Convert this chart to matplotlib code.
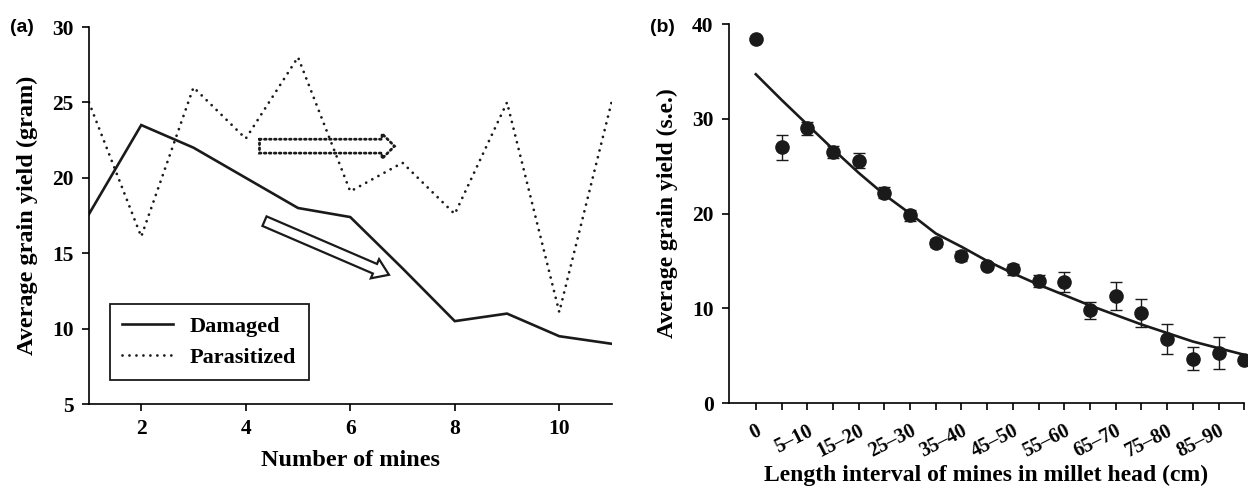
import matplotlib
matplotlib.use("Agg")
import matplotlib.pyplot as plt
from matplotlib.patches import FancyArrowPatch
import numpy as np

# ---------------- data ----------------
mines = [1, 2, 3, 4, 5, 6, 7, 8, 9, 10, 11]
damaged = [17.6, 23.5, 22.0, 20.0, 18.0, 17.4, 14.0, 10.5, 11.0, 9.5, 9.0]
parasitized = [25.0, 16.1, 26.0, 22.6, 28.0, 19.1, 21.0, 17.6, 25.0, 11.1, 25.0]

intervals = ["0", "0\u20135", "5\u201310", "10\u201315", "15\u201320", "20\u201325",
             "25\u201330", "30\u201335", "35\u201340", "40\u201345", "45\u201350",
             "50\u201355", "55\u201360", "60\u201365", "65\u201370", "70\u201375",
             "75\u201380", "80\u201385", "85\u201390", "90\u201395"]
yield_mean = [38.4, 27.0, 29.0, 26.5, 25.6, 22.2, 19.8, 16.9, 15.5, 14.5,
              14.1, 12.9, 12.8, 9.8, 11.3, 9.5, 6.8, 4.7, 5.3, 4.6]
yield_se = [0.0, 1.3, 0.7, 0.6, 0.8, 0.6, 0.6, 0.4, 0.5, 0.4,
            0.6, 0.6, 1.05, 0.9, 1.45, 1.5, 1.6, 1.2, 1.7, 0.0]
fit_curve = [34.7, 32.0, 29.4, 26.8, 24.3, 22.0, 20.0, 17.9, 16.5, 15.0,
             13.7, 12.5, 11.4, 10.3, 9.3, 8.3, 7.4, 6.5, 5.8, 5.1]

# annotation arrows (data coordinates)
arrow_damaged = ((4.31, 17.2), (6.79, 13.5))
arrow_parasit = ((4.21, 22.1), (6.90, 22.1))

plt.rcParams['font.family'] = ['Liberation Serif', 'DejaVu Serif']
plt.rcParams['font.weight'] = 'bold'
plt.rcParams['axes.labelweight'] = 'bold'

INK = '#1a1a1a'
fig = plt.figure(figsize=(12.48, 4.91), dpi=100)

# ---------------- panel (a) ----------------
ax1 = fig.add_axes([0.0713, 0.177, 0.4187, 0.768])
ax1.plot(mines, damaged, color=INK, lw=1.9, solid_joinstyle='miter',
         label='Damaged')
ax1.plot(mines, parasitized, color=INK, lw=2.0, linestyle=(0, (0.01, 2.5)),
         dash_capstyle='round', label='Parasitized')
ax1.set_xlim(1, 11)
ax1.set_ylim(5, 30)
ax1.set_xticks([2, 4, 6, 8, 10])
ax1.set_yticks([5, 10, 15, 20, 25, 30])
for s in ['top', 'right']:
    ax1.spines[s].set_visible(False)
for s in ['left', 'bottom']:
    ax1.spines[s].set_linewidth(1.2)
ax1.tick_params(direction='out', length=5, width=1.2, labelsize=15.5, pad=6)
for lab in ax1.get_xticklabels() + ax1.get_yticklabels():
    lab.set_fontweight('bold')
ax1.set_xlabel('Number of mines', fontsize=17.5, labelpad=8)
ax1.set_ylabel('Average grain yield (gram)', fontsize=17.5, labelpad=10)

leg = ax1.legend(loc='lower left', bbox_to_anchor=(0.04, 0.064, 0.382, 0.206),
                 mode='expand', fancybox=False, framealpha=1, edgecolor=INK,
                 prop={'size': 16, 'weight': 'bold'}, handlelength=2.3,
                 borderpad=0.55, labelspacing=0.45, handletextpad=0.75,
                 borderaxespad=0)
leg.get_frame().set_linewidth(1.3)

a1 = FancyArrowPatch(arrow_damaged[0], arrow_damaged[1],
                     arrowstyle='simple,head_width=15,head_length=11,tail_width=7.5',
                     mutation_scale=1, facecolor='white', edgecolor=INK,
                     lw=1.6, joinstyle='miter')
ax1.add_patch(a1)
a2 = FancyArrowPatch(arrow_parasit[0], arrow_parasit[1],
                     arrowstyle='simple,head_width=18,head_length=9,tail_width=10',
                     mutation_scale=1, facecolor='white', edgecolor=INK,
                     lw=2.0, linestyle=(0, (0.6, 1.2)), joinstyle='miter')
ax1.add_patch(a2)

fig.text(0.008, 0.945, '(a)', fontsize=14, fontweight='bold',
         family='Liberation Sans', va='center', ha='left')

# ---------------- panel (b) ----------------
ax2 = fig.add_axes([0.584, 0.179, 0.413, 0.772])
xpos = np.arange(len(intervals))
ax2.plot(xpos, fit_curve, color=INK, lw=1.9, zorder=2)
ax2.errorbar(xpos, yield_mean, yerr=yield_se, fmt='o', color=INK,
             ms=9.5, ecolor=INK, elinewidth=1.0, capsize=4, capthick=1.0,
             zorder=3, clip_on=False)
ax2.set_xlim(-1.05, len(intervals) - 1)
ax2.set_ylim(0, 40)
ax2.set_yticks([0, 10, 20, 30, 40])
ax2.set_xticks(xpos)
ax2.set_xticklabels([lab if i % 2 == 0 else '' for i, lab in enumerate(intervals)],
                    rotation=27, ha='right', va='top', rotation_mode='anchor')
for s in ['top', 'right']:
    ax2.spines[s].set_visible(False)
for s in ['left', 'bottom']:
    ax2.spines[s].set_linewidth(1.2)
ax2.tick_params(direction='out', length=5, width=1.2, labelsize=15.5, pad=6)
ax2.tick_params(axis='x', pad=8, labelsize=14.5)
for lab in ax2.get_xticklabels() + ax2.get_yticklabels():
    lab.set_fontweight('bold')
ax2.set_xlabel('Length interval of mines in millet head (cm)', fontsize=17)
ax2.xaxis.set_label_coords(0.5, -0.163)
ax2.set_ylabel('Average grain yield (s.e.)', fontsize=17, labelpad=10)

fig.text(0.521, 0.945, '(b)', fontsize=14, fontweight='bold',
         family='Liberation Sans', va='center', ha='left')

fig.savefig('out.png', dpi=100)
